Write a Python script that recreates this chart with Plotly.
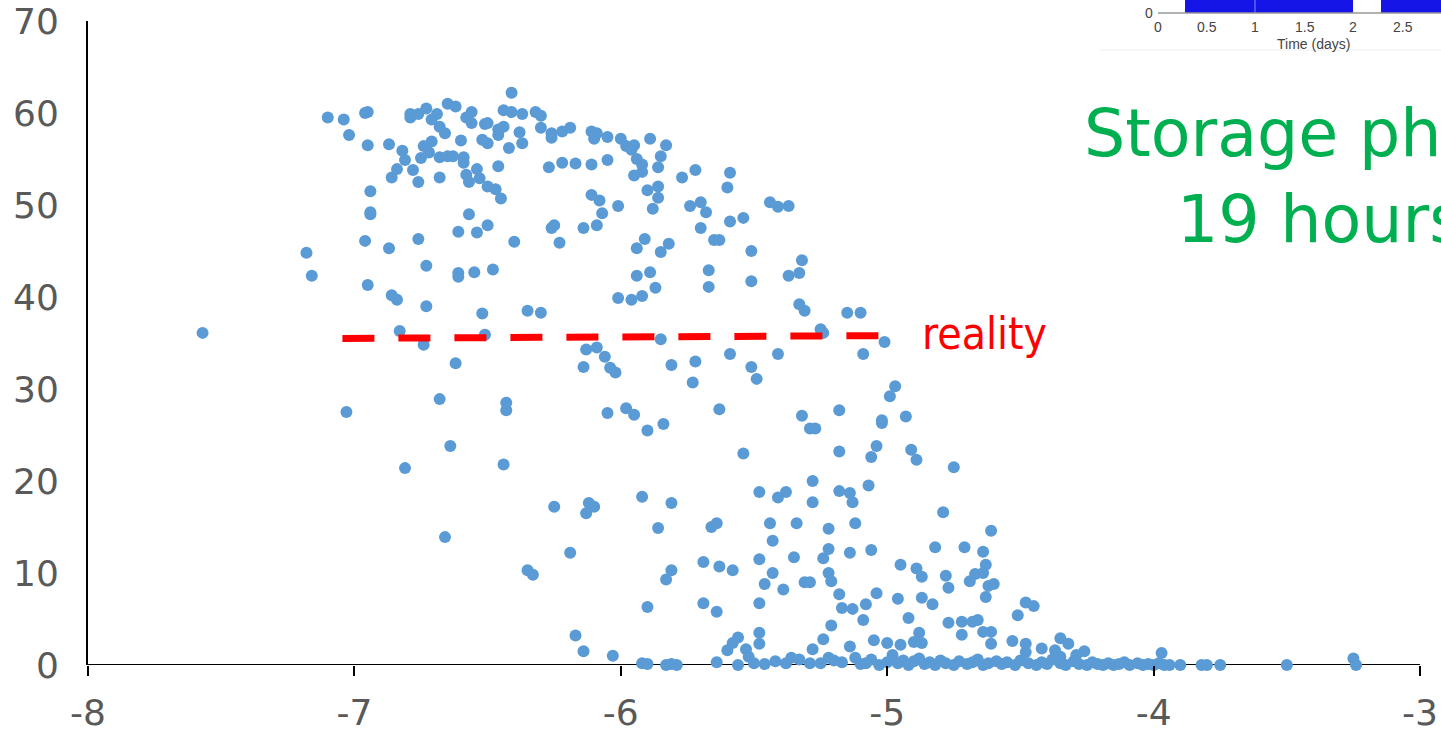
import plotly.graph_objects as go

# ---- data (x = log-scale quantity, y = value) ----
upper_cluster = [
    (-7.18,44.8),(-7.16,42.3),(-7.10,59.5),(-7.04,59.3),(-7.02,57.6),(-6.96,60.0),(-6.95,60.1),(-6.95,56.5),
    (-6.94,51.5),(-6.94,49.2),(-6.94,49.0),(-6.96,46.1),(-6.95,41.3),(-6.87,56.6),(-6.87,45.3),(-6.86,40.2),
    (-6.84,39.7),(-6.86,53.0),(-6.84,53.9),(-6.82,55.9),(-6.81,54.9),(-6.79,59.9),(-6.79,59.5),(-6.78,53.8),
    (-6.76,46.3),(-6.76,52.5),(-6.76,59.9),(-6.75,55.1),(-6.74,56.4),(-6.73,43.4),(-6.73,60.5),(-6.72,55.7),
    (-6.71,59.3),(-6.71,56.9),(-6.69,59.9),(-6.68,58.5),(-6.68,55.2),(-6.68,53.0),(-6.66,57.8),(-6.65,61.0),
    (-6.65,55.3),(-6.63,55.3),(-6.62,60.7),(-6.61,47.1),(-6.61,42.6),(-6.61,42.2),(-6.60,57.0),(-6.59,55.2),
    (-6.59,54.6),(-6.58,59.5),(-6.58,53.3),(-6.57,52.5),(-6.57,49.0),(-6.56,60.1),(-6.56,58.9),(-6.55,42.7),
    (-6.54,53.9),(-6.54,47.0),(-6.53,52.9),(-6.52,57.1),(-6.51,58.8),(-6.50,58.9),(-6.50,52.0),(-6.50,47.8),
    (-6.50,56.7),(-6.48,43.0),(-6.47,51.7),(-6.46,58.2),(-6.46,57.6),(-6.46,54.2),(-6.45,50.7),(-6.44,60.3),
    (-6.44,58.5),(-6.42,56.2),(-6.41,62.2),(-6.41,60.1),(-6.40,46.0),(-6.38,57.9),(-6.37,59.9),(-6.37,56.7),
    (-6.32,60.1),(-6.30,59.7),(-6.30,58.4),(-6.27,54.1),(-6.26,57.8),(-6.26,57.3),(-6.26,47.5),(-6.25,47.8),
    (-6.23,45.9),(-6.22,58.0),(-6.22,54.6),(-6.19,58.4),(-6.17,54.5),(-6.14,47.5),(-6.11,54.4),(-6.11,51.1),
    (-6.11,58.0),(-6.10,57.2),(-6.09,57.8),(-6.09,47.8),(-6.08,50.5),(-6.07,49.1),(-6.05,57.4),(-6.05,54.9),
    (-6.01,49.9),(-6.01,39.9),(-6.00,57.2),(-5.98,56.4),(-5.96,56.0),(-5.96,39.7),(-5.95,56.5),(-5.95,53.2),
    (-5.94,55.0),(-5.94,45.3),(-5.94,42.3),(-5.92,54.4),(-5.92,53.6),(-5.92,40.1),(-5.91,46.3),(-5.90,51.6),
    (-5.89,42.7),(-5.89,57.2),(-5.88,49.6),(-5.87,41.0),(-5.86,54.1),(-5.86,52.0),(-5.86,50.8),(-5.85,55.3),
    (-5.85,44.9),(-5.83,56.5),(-5.82,45.8),(-5.77,53.0),(-5.74,49.9),(-5.72,53.8),(-5.70,47.5),(-5.70,50.3),
    (-5.68,49.2),(-5.67,42.9),(-5.67,41.1),(-5.65,46.2),(-5.63,46.2),(-5.60,51.9),(-5.59,53.5),(-5.59,48.2),
    (-5.54,48.6),(-5.51,45.0),(-5.51,41.7),(-5.44,50.3),(-5.41,49.8),(-5.37,49.9),(-5.37,42.3),(-5.33,42.6),
    (-5.32,44.0),(-5.33,39.2),(-5.31,38.5),
]

mid_band = [
    (-7.57,36.1),(-7.03,27.5),(-6.83,36.3),(-6.81,21.4),(-6.74,34.8),(-6.73,39.0),(-6.68,28.9),(-6.64,23.8),
    (-6.62,32.8),(-6.52,38.2),(-6.51,35.9),(-6.44,21.8),(-6.43,28.5),(-6.43,27.7),(-6.35,38.5),(-6.30,38.3),
    (-6.25,17.2),(-6.14,32.4),(-6.13,34.3),(-6.13,16.5),(-6.12,17.6),(-6.10,17.2),(-6.09,34.5),(-6.06,33.5),
    (-6.05,27.4),(-6.04,32.3),(-6.02,31.8),(-5.98,27.9),(-5.95,27.2),(-5.92,18.3),(-5.90,25.5),(-5.85,35.4),
    (-5.84,26.2),(-5.81,32.6),(-5.81,17.6),(-5.73,30.7),(-5.72,33.0),(-5.66,15.0),(-5.64,15.4),(-5.63,27.8),
    (-5.59,33.8),(-5.54,23.0),(-5.51,32.4),(-5.49,31.1),(-5.48,18.8),(-5.44,15.4),(-5.41,18.2),(-5.41,33.8),
    (-5.38,18.8),(-5.34,15.4),(-5.32,27.1),(-5.29,25.7),(-5.27,25.7),(-5.28,20.0),(-5.28,17.7),(-5.25,36.5),
    (-5.24,36.1),(-5.22,14.8),(-5.18,27.7),(-5.18,23.2),(-5.18,18.9),(-5.15,38.3),(-5.14,18.7),(-5.13,17.7),
    (-5.12,15.4),(-5.10,38.3),(-5.09,33.8),(-5.07,19.5),(-5.06,22.6),(-5.04,23.8),(-5.02,26.6),(-5.02,26.3),
    (-5.01,35.1),(-4.99,29.2),(-4.97,30.3),(-4.93,27.0),(-4.91,23.4),(-4.89,22.3),(-4.79,16.6),(-4.75,21.5),
]

low_band = [
    (-6.66,13.9),(-6.35,10.3),(-6.33,9.8),(-6.19,12.2),(-6.17,3.2),(-6.14,1.5),(-6.03,1.0),(-5.90,6.3),
    (-5.86,14.9),(-5.83,9.3),(-5.81,10.3),(-5.69,11.2),(-5.69,6.7),(-5.64,5.8),(-5.63,10.7),(-5.60,1.6),
    (-5.58,10.3),(-5.58,2.4),(-5.56,3.0),(-5.53,1.7),(-5.52,0.9),(-5.48,3.5),(-5.48,2.3),(-5.48,11.5),
    (-5.48,6.7),(-5.46,8.8),(-5.43,13.5),(-5.43,10.0),(-5.39,8.2),(-5.36,0.8),(-5.35,11.7),(-5.31,9.0),
    (-5.29,9.0),(-5.28,1.7),(-5.24,2.8),(-5.24,11.6),(-5.22,10.0),(-5.22,12.6),(-5.21,9.1),(-5.21,4.3),
    (-5.18,7.7),(-5.17,6.2),(-5.14,2.0),(-5.14,12.2),(-5.13,6.1),(-5.09,4.9),(-5.08,6.6),(-5.06,12.5),
    (-5.05,2.7),(-5.04,7.8),(-5.00,2.4),(-4.96,7.2),(-4.95,2.2),(-4.95,10.9),(-4.92,5.1),(-4.90,2.5),
    (-4.89,10.5),(-4.88,3.5),(-4.87,9.6),(-4.87,2.4),(-4.87,7.3),(-4.83,6.6),(-4.82,12.8),(-4.78,9.7),
    (-4.77,8.4),(-4.77,4.6),(-4.72,4.7),(-4.72,3.3),(-4.71,12.8),(-4.69,9.1),(-4.68,4.7),(-4.67,9.9),
    (-4.66,4.9),(-4.64,12.3),(-4.64,3.6),(-4.64,10.0),(-4.63,10.9),(-4.63,7.4),(-4.62,8.6),(-4.61,14.6),
    (-4.61,3.6),(-4.60,8.8),(-4.61,2.3),(-4.53,2.6),(-4.51,5.4),(-4.48,6.8),(-4.45,6.4),(-4.48,2.3),
    (-4.48,1.4),(-4.42,1.8),(-4.37,1.6),(-4.35,0.9),(-4.35,2.9),(-4.32,2.3),(-4.29,1.1),(-4.26,1.5),
    (-3.97,1.3),(-3.25,0.7),
]

near_zero_x = [-5.92,-5.90,-5.83,-5.81,-5.79,-5.64,-5.56,-5.50,-5.46,-5.42,-5.38,-5.33,-5.29,-5.25,-5.22,
               -5.20,-5.17,-5.12,-5.10,-5.08,-5.06,-5.03,-5.00,-4.98,-4.96,-4.94,-4.92,-4.90,-4.88,-4.86,
               -4.84,-4.82,-4.80,-4.78,-4.75,-4.73,-4.70,-4.68,-4.66,-4.64,-4.62,-4.59,-4.57,-4.55,-4.52,
               -4.50,-4.47,-4.44,-4.42,-4.40,-4.38,-4.35,-4.33,-4.30,-4.28,-4.25,-4.23,-4.21,-4.19,-4.17,
               -4.15,-4.13,-4.11,-4.09,-4.06,-4.04,-4.02,-4.00,-3.98,-3.96,-3.94,-3.90,-3.82,-3.80,-3.75,
               -3.50,-3.24]
near_zero_y = [0.2,0.1,0.0,0.1,0.0,0.3,0.0,0.2,0.1,0.4,0.2,0.6,0.2,0.2,0.8,
               0.5,0.3,0.8,0.1,0.2,0.6,0.0,0.3,1.1,0.2,0.5,0.0,0.4,0.7,0.1,
               0.3,0.0,0.5,0.2,0.0,0.4,0.1,0.3,0.6,0.0,0.2,0.4,0.1,0.3,0.0,
               0.5,0.2,0.0,0.3,0.1,0.6,0.2,0.0,0.4,0.1,0.0,0.3,0.1,0.0,0.2,
               0.0,0.1,0.3,0.0,0.2,0.0,0.1,0.0,0.2,0.0,0.0,0.0,0.0,0.0,0.0,
               0.0,0.0]

reality_x = [-7.045, -5.03]
reality_y = [35.5, 35.8]

x_ticks = [-8, -7, -6, -5, -4, -3]
y_ticks = [0, 10, 20, 30, 40, 50, 60, 70]

inset_ticks = ["0", "0.5", "1", "1.5", "2", "2.5"]

# ---- assemble ----
xs, ys = [], []
for grp in (upper_cluster, mid_band, low_band):
    for a, b in grp:
        xs.append(a); ys.append(b)
xs += near_zero_x
ys += near_zero_y

W, H = 1441, 731
ML, MR, MT, MB = 88, 21, 21, 66
pw, ph = W - ML - MR, H - MT - MB

def px(x):  # pixel -> paper (for decorations outside plot area)
    return (x - ML) / pw

def py(y):
    return (H - MB - y) / ph

fig = go.Figure()
fig.add_trace(go.Scatter(x=xs, y=ys, mode="markers",
                         marker=dict(color="#5B9BD5", size=12, line=dict(width=0)),
                         hoverinfo="skip", showlegend=False, cliponaxis=False))
fig.add_trace(go.Scatter(x=reality_x, y=reality_y, mode="lines",
                         line=dict(color="#FF0000", width=7, dash="32px,24px"),
                         hoverinfo="skip", showlegend=False))

tick_font = dict(family="DejaVu Sans", size=36, color="#595959")
fig.update_layout(
    width=W, height=H, margin=dict(l=ML, r=MR, t=MT, b=MB, pad=0, autoexpand=False),
    paper_bgcolor="white", plot_bgcolor="white", showlegend=False,
    xaxis=dict(range=[-8, -3], tickvals=x_ticks, ticktext=[str(v) for v in x_ticks],
               showgrid=False, zeroline=False, showline=False, ticks="outside", ticklen=10,
               tickcolor="black", tickwidth=2, tickfont=tick_font, anchor="y",
               automargin=False, ticklabelstandoff=6),
    yaxis=dict(range=[0, 70], tickvals=y_ticks, ticktext=[str(v) for v in y_ticks],
               showgrid=False, zeroline=False, showline=True, linecolor="black", linewidth=2,
               ticks="", tickfont=tick_font, automargin=False, ticklabelstandoff=20),
)
# x-axis line drawn at y = 0
fig.add_shape(type="line", xref="x", yref="y", x0=-8, x1=-3, y0=0, y1=0,
              line=dict(color="black", width=2), layer="below")

fig.add_annotation(x=-4.878, y=35.6, xref="x", yref="y", text="reality", showarrow=False,
                   xanchor="left", yanchor="middle", yshift=4,
                   font=dict(family="DejaVu Sans Condensed, DejaVu Sans", size=44, color="#FF0000"))

green = "#00B050"
fig.add_annotation(x=px(1082), y=py(133), xref="paper", yref="paper", text="Storage ph",
                   showarrow=False, xanchor="left", yanchor="middle",
                   font=dict(family="DejaVu Sans", size=65, color=green))
fig.add_annotation(x=px(1175), y=py(220), xref="paper", yref="paper", text="19 hours",
                   showarrow=False, xanchor="left", yanchor="middle",
                   font=dict(family="DejaVu Sans", size=65, color=green))

# inset image fragment (top right)
blue = "#1515E8"
fig.add_shape(type="rect", xref="paper", yref="paper", x0=px(1185), x1=px(1353), y0=py(13), y1=py(0),
              fillcolor=blue, line=dict(width=0))
fig.add_shape(type="rect", xref="paper", yref="paper", x0=px(1381), x1=px(1441), y0=py(13), y1=py(0),
              fillcolor=blue, line=dict(width=0))
fig.add_shape(type="line", xref="paper", yref="paper", x0=px(1255), x1=px(1255), y0=py(13), y1=py(0),
              line=dict(color="#8888ff", width=1))
fig.add_shape(type="line", xref="paper", yref="paper", x0=px(1158), x1=px(1441), y0=py(13), y1=py(13),
              line=dict(color="#999999", width=1.5))
fig.add_shape(type="line", xref="paper", yref="paper", x0=px(1100), x1=px(1441), y0=py(50), y1=py(50),
              line=dict(color="#eeeeee", width=1))
inset_font = dict(family="Liberation Sans", size=14, color="#444444")
fig.add_annotation(x=px(1155), y=py(13), xref="paper", yref="paper", text="0", showarrow=False,
                   xanchor="right", yanchor="middle", font=inset_font)
for lbl, xpix in zip(inset_ticks, [1158, 1207, 1255, 1305, 1353, 1403]):
    fig.add_annotation(x=px(xpix), y=py(27), xref="paper", yref="paper", text=lbl, showarrow=False,
                       xanchor="center", yanchor="middle", font=inset_font)
fig.add_annotation(x=px(1313), y=py(44), xref="paper", yref="paper", text="Time (days)", showarrow=False,
                   xanchor="center", yanchor="middle", font=inset_font)

fig.write_html("out.html")
